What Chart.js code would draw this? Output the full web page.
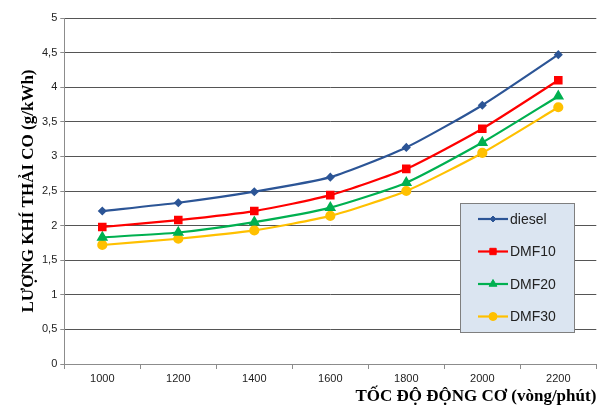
<!DOCTYPE html>
<html>
<head>
<meta charset="utf-8">
<script src="https://cdn.jsdelivr.net/npm/chart.js@4.4.0/dist/chart.umd.min.js"></script>
<style>
  html, body { margin: 0; padding: 0; background: #fff; }
  #wrap { width: 603px; height: 405px; }
</style>
</head>
<body>
<div id="wrap"><canvas id="myChart" width="603" height="405"></canvas></div>
<script>
// data
const speeds = ['1000', '1200', '1400', '1600', '1800', '2000', '2200'];
const diesel = [2.21, 2.33, 2.49, 2.70, 3.13, 3.74, 4.47];
const dmf10 = [1.98, 2.08, 2.21, 2.44, 2.82, 3.40, 4.10];
const dmf20 = [1.83, 1.90, 2.05, 2.26, 2.62, 3.20, 3.87];
const dmf30 = [1.72, 1.81, 1.93, 2.14, 2.50, 3.05, 3.71];
const seriesNames = ['diesel', 'DMF10', 'DMF20', 'DMF30'];
const seriesColors = ['#2c5596', '#ff0000', '#00b050', '#ffc000'];
const seriesMarkers = ['rectRot', 'rect', 'triangle', 'circle'];
const markerSizes = [3, 4.5, 4.5, 4];

const allData = [diesel, dmf10, dmf20, dmf30];
let datasets = [];
for (let i = 0; i < allData.length; i++) {
  datasets.push({
    label: seriesNames[i],
    data: allData[i],
    borderColor: seriesColors[i],
    backgroundColor: seriesColors[i],
    borderWidth: 2.2,
    pointStyle: seriesMarkers[i],
    pointRadius: markerSizes[i],
    pointHoverRadius: markerSizes[i],
    tension: 0.2
  });
}

// legend box drawn by hand, excel style
const boxLegend = {
  id: 'boxLegend',
  afterDraw: function(chart) {
    const ctx = chart.ctx;
    const x = 460, y = 203, w = 114, h = 129;
    ctx.save();
    ctx.fillStyle = '#dbe5f1';
    ctx.strokeStyle = '#7f7f7f';
    ctx.lineWidth = 1;
    ctx.fillRect(x, y, w, h);
    ctx.strokeRect(x + 0.5, y + 0.5, w, h);
    ctx.font = '14px "Liberation Sans", Arial, sans-serif';
    ctx.textBaseline = 'middle';
    chart.data.datasets.forEach(function(ds, i) {
      const ly = y + 16 + i * 32.5;
      ctx.strokeStyle = ds.borderColor;
      ctx.lineWidth = 2.2;
      ctx.beginPath();
      ctx.moveTo(x + 18, ly);
      ctx.lineTo(x + 48, ly);
      ctx.stroke();
      ctx.fillStyle = ds.borderColor;
      ctx.lineWidth = 1;
      Chart.helpers.drawPoint(ctx, {pointStyle: ds.pointStyle, radius: ds.pointRadius, rotation: 0, borderWidth: 1}, x + 33, ly);
      ctx.fillStyle = '#222';
      ctx.fillText(ds.label, x + 50, ly + 1);
    });
    ctx.restore();
  }
};

const ctx = document.getElementById('myChart').getContext('2d');
const myChart = new Chart(ctx, {
  type: 'line',
  data: {
    labels: speeds,
    datasets: datasets
  },
  options: {
    responsive: false,
    animation: false,
    layout: { padding: { top: 18, right: 6, left: 20, bottom: 0 } },
    plugins: {
      legend: { display: false },
      tooltip: { enabled: false }
    },
    scales: {
      x: {
        offset: true,
        grid: {
          offset: true,
          drawOnChartArea: false,
          drawTicks: true,
          tickLength: 5,
          color: '#8c8c8c'
        },
        border: { color: '#8c8c8c' },
        ticks: {
          color: '#222',
          font: { family: '"Liberation Sans", Arial, sans-serif', size: 11, lineHeight: 1 },
          padding: 4
        },
        title: {
          display: true,
          text: 'TỐC ĐỘ ĐỘNG CƠ (vòng/phút)',
          align: 'end',
          color: '#000',
          font: { family: '"Liberation Serif", "Times New Roman", serif', size: 17, weight: 'bold', lineHeight: 1 },
          padding: { top: 0, bottom: 0 }
        }
      },
      y: {
        min: 0,
        max: 5,
        ticks: {
          stepSize: 0.5,
          color: '#222',
          font: { family: '"Liberation Sans", Arial, sans-serif', size: 11 },
          padding: 3,
          callback: function(v) { return String(v).replace('.', ','); }
        },
        grid: {
          color: '#555',
          lineWidth: 1,
          tickLength: 4,
          tickColor: '#8c8c8c'
        },
        border: { color: '#8c8c8c' },
        title: {
          display: true,
          text: 'LƯỢNG KHÍ THẢI CO (g/kWh)',
          color: '#000',
          font: { family: '"Liberation Serif", "Times New Roman", serif', size: 17, weight: 'bold', lineHeight: 1 },
          padding: { top: 0, bottom: 2 }
        }
      }
    }
  },
  plugins: [boxLegend]
});
</script>
</body>
</html>
